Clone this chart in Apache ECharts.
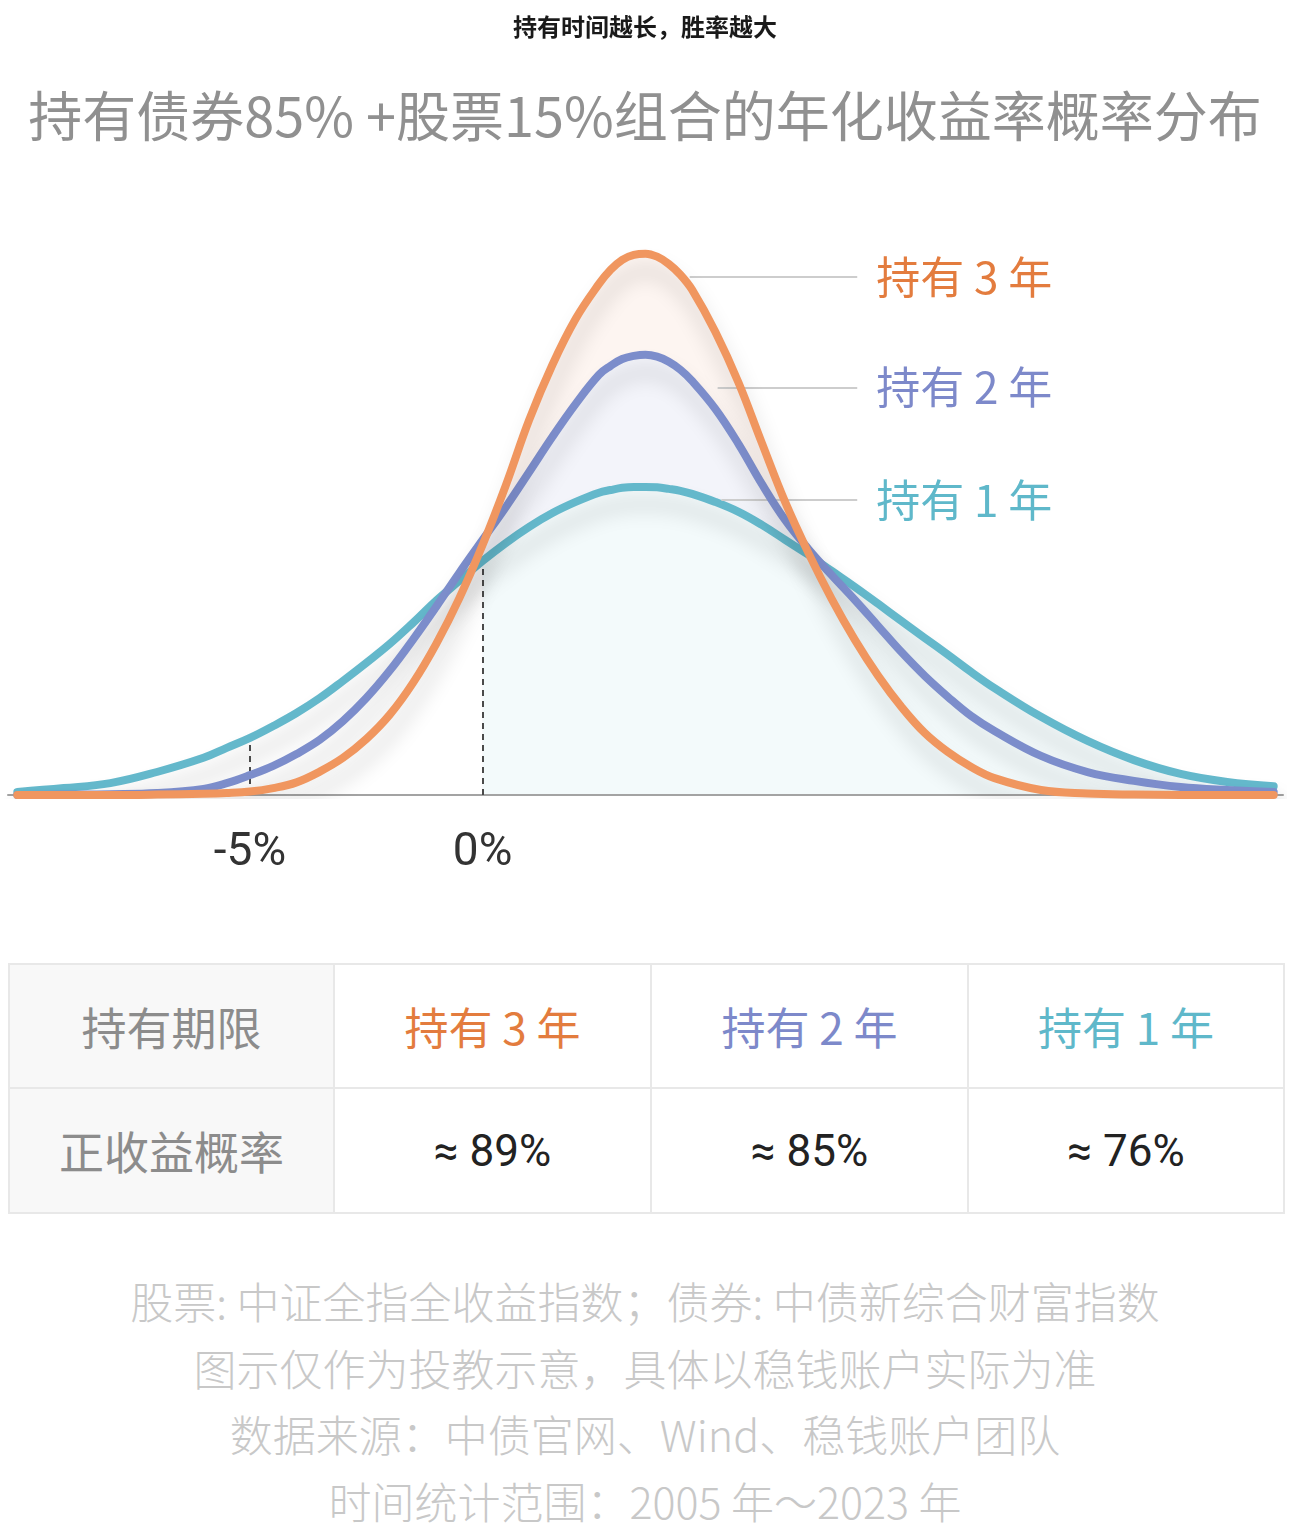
<!DOCTYPE html>
<html>
<head>
<meta charset="utf-8">
<script src="https://cdn.jsdelivr.net/npm/echarts@6/dist/echarts.min.js"></script>
<style>
  html, body { margin: 0; padding: 0; background: #ffffff; }
  body { width: 1290px; height: 1528px; position: relative; overflow: hidden; }
  #chart { position: absolute; left: 0; top: 0; width: 1290px; height: 940px; }
  #tbl { position: absolute; left: 8px; top: 963px; width: 1275px; height: 249px;
         border-collapse: collapse; table-layout: fixed; }
  #tbl td { border: 2px solid #e8e8e8; text-align: center; vertical-align: middle;
            font-family: "Noto Sans CJK SC", sans-serif; font-size: 44px; padding: 0; }
  #tbl td.head { background: #f8f8f8; color: #8c8c8c; font-size: 45px; }
  #tbl td.val { font-family: Roboto, "Noto Sans", sans-serif; color: #222222; font-size: 44px; }
  #foot { position: absolute; left: 0; top: 1267px; width: 1290px; text-align: center;
          font-family: "Noto Sans CJK SC", sans-serif; font-weight: 300; font-size: 43px;
          line-height: 66.5px; color: #c8c8c8; }
</style>
</head>
<body>
<div id="chart"></div>
<table id="tbl"></table>
<div id="foot"></div>
<script>
// ---- data (x: annual return %, y: probability density, % per 1%) ----
const xValues = [-10, -9, -8, -7, -6, -5.5, -5, -4.5, -4, -3.5, -3, -2.5, -2, -1.5, -1, -0.5,
  0, 0.5, 1, 1.5, 2, 2.5, 2.75, 3, 3.25, 3.5, 3.75, 4, 4.25, 4.5, 5, 5.5, 6, 6.5, 7, 7.5, 8, 8.5,
  9, 9.5, 10, 10.5, 11, 12, 13, 14, 15, 16, 17];
const hold3y = [0, 0, 0, 0.01, 0.03, 0.05, 0.09, 0.18, 0.33, 0.61, 0.97, 1.46, 2.09, 2.92, 3.94, 5.14,
  6.53, 8.09, 9.79, 11.23, 12.43, 13.34, 13.71, 13.97, 14.10, 14.13, 14.05, 13.86, 13.58, 13.19, 12.09,
  10.76, 9.19, 7.65, 6.32, 5.12, 4.05, 3.11, 2.30, 1.62, 1.12, 0.73, 0.44, 0.13, 0.04, 0.01, 0, 0, 0];
const hold2y = [0.00, 0.01, 0.02, 0.05, 0.16, 0.31, 0.52, 0.76, 1.07, 1.44, 1.93, 2.53, 3.24, 4.05, 4.91, 5.80,
  6.66, 7.52, 8.43, 9.35, 10.21, 10.97, 11.20, 11.38, 11.46, 11.49, 11.44, 11.31, 11.10, 10.81, 10.08,
  9.16, 8.12, 7.18, 6.42, 5.74, 5.09, 4.41, 3.73, 3.11, 2.56, 2.06, 1.67, 1.02, 0.60, 0.37, 0.21, 0.13, 0.08];
const hold1y = [0.08, 0.18, 0.31, 0.60, 0.97, 1.23, 1.49, 1.80, 2.14, 2.53, 2.98, 3.45, 3.94, 4.49, 5.07, 5.59,
  6.11, 6.58, 7.00, 7.36, 7.65, 7.89, 7.96, 8.02, 8.04, 8.04, 8.03, 7.99, 7.94, 7.86, 7.65,
  7.39, 7.05, 6.66, 6.27, 5.85, 5.43, 4.99, 4.54, 4.10, 3.66, 3.21, 2.79, 2.04, 1.41, 0.91, 0.55, 0.34, 0.23];
const seriesNames = ['持有 3 年', '持有 2 年', '持有 1 年'];
const xTickLabels = [-5, 0];
const labelLevels = [13.52, 10.63, 7.70];      // height of each curve label / leader line
const leaderStarts = [4.45, 5.05, 5.13];        // x where each leader line leaves its curve
const leaderEnd = 8.05;
const dashedMarks = [[-5, 1.36], [0, 6.0]];     // [x, top] of the dashed guides
const tableHead = ['持有期限', '正收益概率'];
const positiveProb = ['≈ 89%', '≈ 85%', '≈ 76%'];
const subTitle = '持有时间越长，胜率越大';
const mainTitle = '持有债券85% +股票15%组合的年化收益率概率分布';
const footLines = ['股票: 中证全指全收益指数；债券: 中债新综合财富指数',
  '图示仅作为投教示意，具体以稳钱账户实际为准',
  '数据来源：中债官网、Wind、稳钱账户团队',
  '时间统计范围：2005 年～2023 年'];

// ---- styles ----
const lineColors = ['#f0965f', '#7c8dcb', '#64b8cb'];
const textColors = ['#e37c3e', '#7d89ca', '#5fb8ca'];
const fillColors = ['#fdf5f1', '#f3f4fa', '#f3fafb'];
const CJK = '"Noto Sans CJK SC", sans-serif';
const SMOOTH = 0.4;

const curves = [hold3y, hold2y, hold1y];
const pairs = curves.map(arr => xValues.map((x, i) => [x, arr[i]]));

const series = [];
// fills (only for positive returns), drawn behind: 3y, 2y, 1y
pairs.forEach((p, k) => {
  series.push({
    type: 'line', name: seriesNames[k] + '-fill', smooth: SMOOTH, symbol: 'none', silent: true,
    data: p.filter(d => d[0] >= 0),
    lineStyle: { width: 0 },
    areaStyle: { color: fillColors[k], opacity: 1 },
    z: 1 + k * 0.1
  });
});
// dashed guides
series.push({
  type: 'line', data: [], silent: true, z: 3,
  markLine: {
    silent: true, symbol: ['none', 'none'], animation: false,
    label: { show: false },
    lineStyle: { color: '#4a4a4a', width: 2, type: [6, 5] },
    data: dashedMarks.map(m => [{ coord: [m[0], 0] }, { coord: [m[0], m[1]] }])
  }
});
// curves: 1y at bottom, 3y on top
[2, 1, 0].forEach((k, order) => {
  series.push({
    type: 'line', name: seriesNames[k], smooth: SMOOTH, symbol: 'none', silent: true,
    data: pairs[k],
    lineStyle: {
      width: 8, color: lineColors[k], cap: 'round', join: 'round',
      shadowColor: 'rgba(0,0,0,0.17)', shadowBlur: 20, shadowOffsetY: 17, shadowOffsetX: 3
    },
    z: 4 + order,
    markLine: {
      silent: true, symbol: ['none', 'none'], animation: false,
      lineStyle: { color: '#cdcdcd', width: 2, type: 'solid', shadowBlur: 0, shadowColor: 'transparent' },
      label: {
        show: true, position: 'end', distance: 19, formatter: seriesNames[k],
        color: textColors[k], fontSize: 44, fontFamily: CJK
      },
      data: [[{ coord: [leaderStarts[k], labelLevels[k]] }, { coord: [leaderEnd, labelLevels[k]] }]]
    }
  });
});

const chart = echarts.init(document.getElementById('chart'), null, { renderer: 'canvas' });
chart.setOption({
  animation: false,
  backgroundColor: '#ffffff',
  title: [
    { text: subTitle, left: 'center', top: 10,
      textStyle: { fontSize: 24, fontWeight: 'bold', color: '#1a1a1a', fontFamily: CJK } },
    { text: mainTitle, left: 'center', top: 84,
      textStyle: { fontSize: 54, fontWeight: 'normal', color: '#909090', fontFamily: CJK } }
  ],
  grid: { left: 8, right: 7, top: 182, bottom: 145, containLabel: false, outerBoundsMode: 'none' },
  xAxis: {
    type: 'value', min: -10.2, max: 17.2, z: 2,
    axisLine: { show: true, onZero: false, lineStyle: { color: '#a3a3a3', width: 2 } },
    axisTick: { show: false },
    splitLine: { show: false },
    axisLabel: {
      customValues: xTickLabels, formatter: v => v + '%', margin: 35,
      fontSize: 46, color: '#333333', fontFamily: 'Roboto, "Noto Sans", sans-serif'
    }
  },
  yAxis: { type: 'value', min: 0, max: 16, show: false, splitLine: { show: false } },
  series: series
});

// ---- table ----
const tbl = document.getElementById('tbl');
const colgroup = document.createElement('colgroup');
[325, 317, 317, 316].forEach(w => { const c = document.createElement('col'); c.style.width = w + 'px'; colgroup.appendChild(c); });
tbl.appendChild(colgroup);
const r1 = tbl.insertRow(); r1.style.height = '124px';
const r2 = tbl.insertRow(); r2.style.height = '125px';
let c = r1.insertCell(); c.className = 'head'; c.textContent = tableHead[0];
seriesNames.forEach((n, k) => { const td = r1.insertCell(); td.textContent = n; td.style.color = textColors[k]; });
c = r2.insertCell(); c.className = 'head'; c.textContent = tableHead[1];
positiveProb.forEach(v => { const td = r2.insertCell(); td.className = 'val'; td.textContent = v; });

// ---- footer ----
const foot = document.getElementById('foot');
footLines.forEach(t => { const d = document.createElement('div'); d.textContent = t; foot.appendChild(d); });
</script>
</body>
</html>
